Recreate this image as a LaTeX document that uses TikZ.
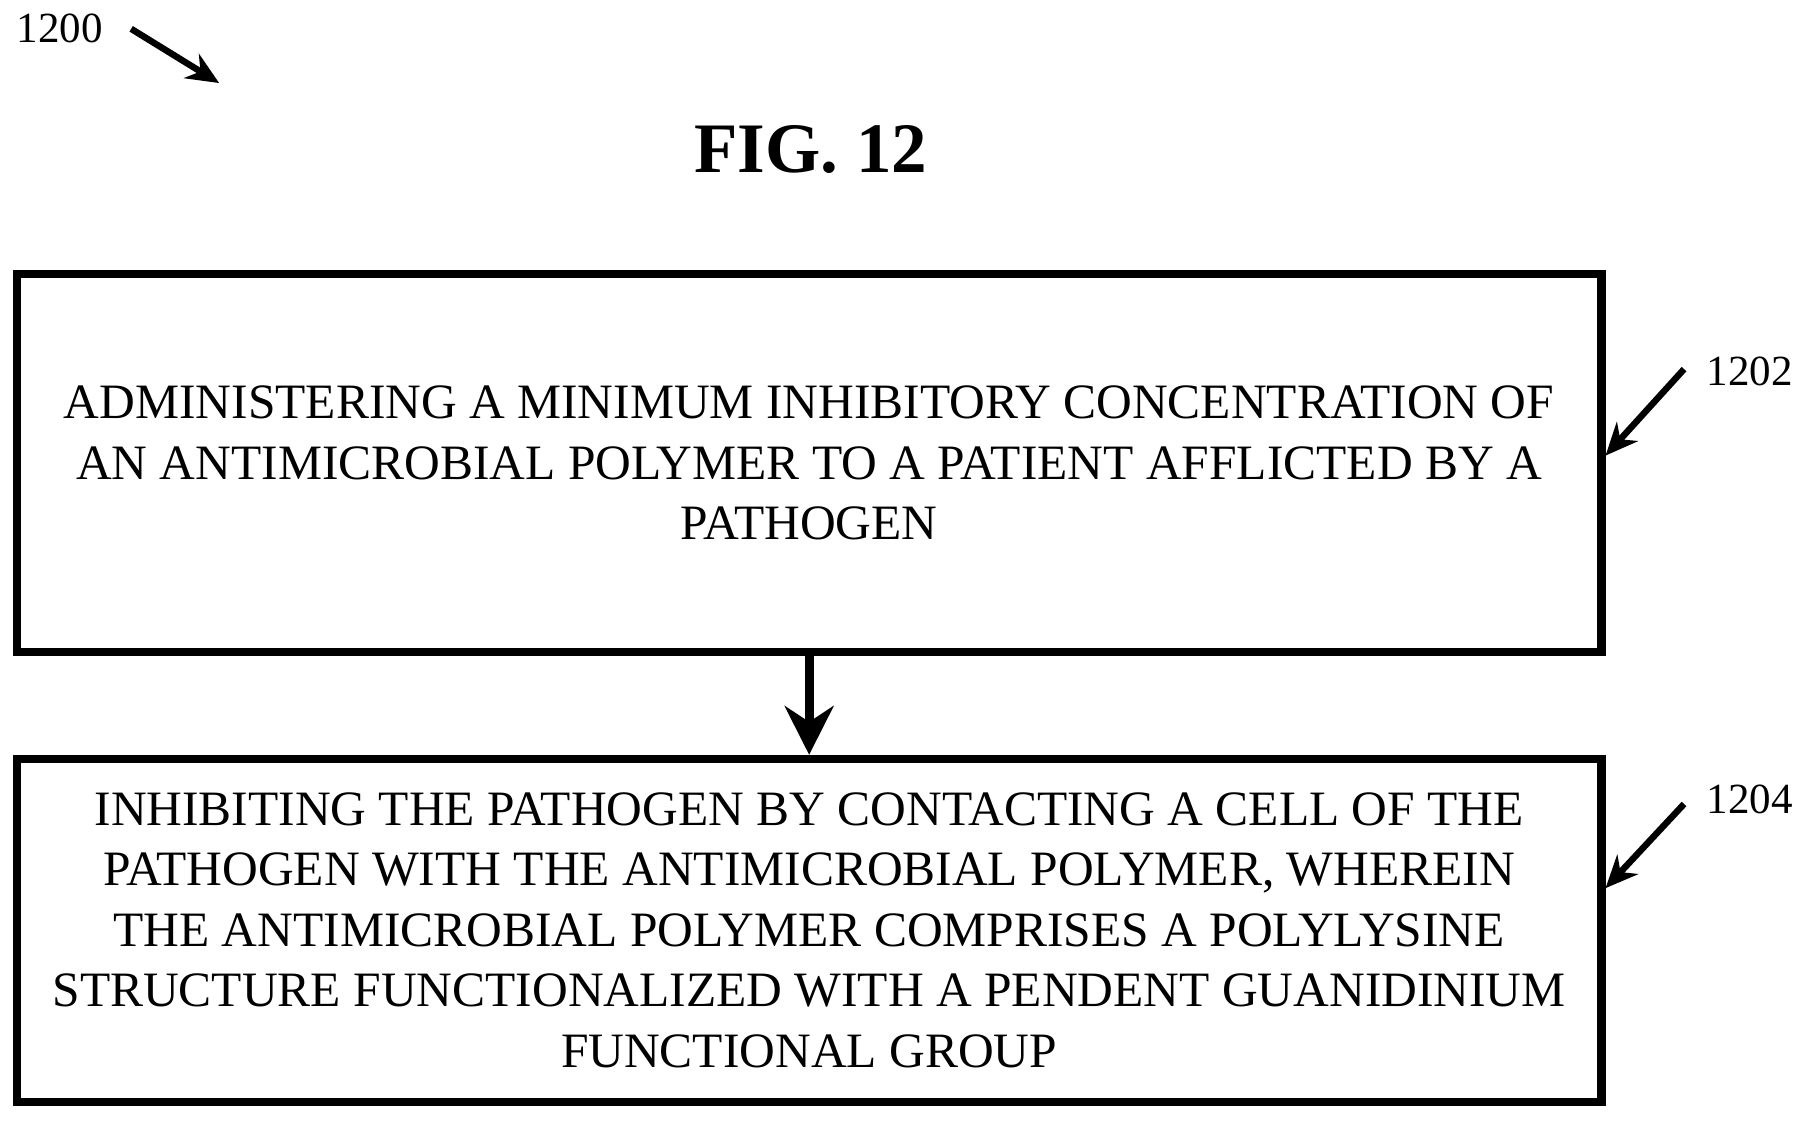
\documentclass[tikz,border=0pt]{standalone}
\usepackage{fontspec}
\setmainfont{Liberation Serif}
\usetikzlibrary{positioning, arrows.meta}
\tikzset{
  stepbox/.style={draw, line width=2pt, minimum width=13.73cm, align=center,
    font=\fontsize{12.2}{14.9}\selectfont},
  refarrow/.style={-{Stealth[length=8pt,width=7pt]}, line width=1.6pt},
  reflabel/.style={font=\fontsize{10.6}{12}\selectfont}
}
\begin{document}
\begin{tikzpicture}[x=0.01cm, y=-0.01cm]
  \useasboundingbox (0,0) rectangle (1564,973);

  \node (fig) at (703,130) {\fontsize{17.5}{20}\selectfont\bfseries FIG. 12};

  \node (l1200) at (52,25) [reflabel] {1200};
  \coordinate (a1200) at (190,72);
  \draw[refarrow] (l1200.east) ++(12,0) -- (a1200);

  \node (s1202) [stepbox, minimum height=3.27cm] at (701.5,401.5)
    {ADMINISTERING A MINIMUM INHIBITORY CONCENTRATION OF\\
     AN ANTIMICROBIAL POLYMER TO A PATIENT AFFLICTED BY A\\
     PATHOGEN};
  \node (s1204) [stepbox, minimum height=2.97cm] at (701.5,806.5)
    {INHIBITING THE PATHOGEN BY CONTACTING A CELL OF THE\\
     PATHOGEN WITH THE ANTIMICROBIAL POLYMER, WHEREIN\\
     THE ANTIMICROBIAL POLYMER COMPRISES A POLYLYSINE\\
     STRUCTURE FUNCTIONALIZED WITH A PENDENT GUANIDINIUM\\
     FUNCTIONAL GROUP};

  \draw[refarrow, line width=2.2pt, -{Stealth[length=12pt,width=12pt]}] (s1202) -- (s1204);

  \node (l1202) at (1517,322) [reflabel] {1202};
  \node (l1204) at (1517,693) [reflabel] {1204};
  \coordinate (t1202) at (1460,320);
  \coordinate (t1204) at (1460,697);
  \draw[refarrow] (t1202) -- (s1202.east |- 0,395);
  \draw[refarrow] (t1204) -- (s1204.east |- 0,770);
\end{tikzpicture}
\end{document}
